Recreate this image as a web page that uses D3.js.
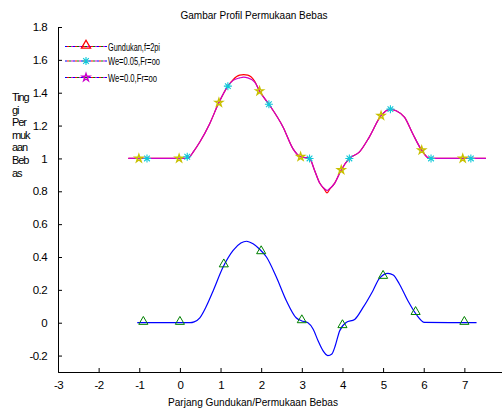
<!DOCTYPE html>
<html><head><meta charset="utf-8">
<script src="https://cdn.jsdelivr.net/npm/d3@7"></script>
<style>body{margin:0;background:#fff}svg{display:block}text{font-family:"Liberation Sans",Arial,sans-serif;fill:#000}</style>
</head><body><svg id="c" width="502" height="412"></svg>
<script>
// ---- data ----
const titleText = "Gambar Profil  Permukaan Bebas";
const xLabelText = "Parjang Gundukan/Permukaan Bebas";
const yLabelLines = ["Ting","gi","Per","muk","aan","Beb","as"];
const xTicks = [-3,-2,-1,0,1,2,3,4,5,6,7,8];
const yTicks = [-0.2,0,0.2,0.4,0.6,0.8,1,1.2,1.4,1.6,1.8];
const legendLabels = ["Gundukan,f=2pi","We=0.05,Fr=oo","We=0.0,Fr=oo"];

// bottom curve (bump)
const bumpX = [-1.05,0.25,0.35,0.49,0.65,0.82,1.06,1.31,1.5,1.64,1.8,1.95,2.13,2.37,2.62,2.86,2.99,3.15,3.28,3.40,3.52,3.64,3.74,3.81,3.93,4.09,4.30,4.50,4.75,4.91,5.12,5.25,5.40,5.61,5.81,6.02,7.30];
const bumpY = [0,0,0.005,0.03,0.10,0.195,0.337,0.44,0.485,0.496,0.48,0.45,0.40,0.28,0.134,0.03,0.012,0.0,-0.04,-0.11,-0.17,-0.2,-0.19,-0.15,-0.05,0.002,0.02,0.09,0.195,0.27,0.30,0.29,0.236,0.134,0.053,0.002,0];

// top curves
const surfX = [-1.27,0.15,0.22,0.33,0.49,0.73,0.96,1.18,1.31,1.47,1.57,1.67,1.84,1.96,2.19,2.54,2.78,2.97,3.19,3.31,3.44,3.56,3.62,3.68,3.81,3.97,4.17,4.42,4.66,4.95,5.18,5.32,5.53,5.73,5.95,6.14,7.53];
const surfRedY = [1,1,1.005,1.04,1.10,1.21,1.34,1.44,1.48,1.507,1.51,1.507,1.47,1.41,1.33,1.19,1.06,1.01,1.0,0.93,0.85,0.81,0.79,0.81,0.85,0.93,1.0,1.04,1.13,1.26,1.30,1.29,1.25,1.15,1.05,1.0,1];
const surfMagY = [1,1,1.005,1.04,1.10,1.21,1.34,1.44,1.475,1.49,1.495,1.49,1.465,1.41,1.33,1.19,1.06,1.01,1.0,0.93,0.85,0.815,0.805,0.815,0.85,0.93,1.0,1.04,1.13,1.26,1.30,1.29,1.25,1.15,1.05,1.0,1];

// markers
const triX = [-0.9,0,1.08,2.0,3.0,4.0,5.0,5.8,7.0];
const triY = [0,0,0.35,0.43,0.01,-0.02,0.28,0.06,0];
const starX = [-1.01,-0.02,0.96,1.96,2.97,3.97,4.95,5.95,6.96];
const starY = [1.0,1.0,1.34,1.41,1.01,0.93,1.26,1.05,1.0];
const astX = [-0.81,0.18,1.18,2.19,3.19,4.17,5.18,6.18,7.16];
const astY = [1.0,1.01,1.44,1.33,1.0,1.0,1.30,1.0,1.0];

// ---- chart ----
const svg = d3.select("#c");
const x = d3.scaleLinear().domain([-3,8]).range([58,505]);
const y = d3.scaleLinear().domain([-0.3,1.8]).range([372,27]);

// axes (ticks inward)
const xa = svg.append("g").attr("transform","translate(0,372)")
  .call(d3.axisBottom(x).tickValues(xTicks).tickSize(-4).tickPadding(9).tickFormat(d=>d));
const ya = svg.append("g").attr("transform","translate(58,0)")
  .call(d3.axisLeft(y).tickValues(yTicks).tickSize(-4).tickPadding(11).tickFormat(d=>+d.toFixed(1)));
[xa,ya].forEach(a=>{
  a.selectAll("path").attr("stroke","#000").attr("stroke-width",1);
  a.selectAll("line").attr("stroke","#000");
  a.selectAll("text").style("font-family","Liberation Sans, Arial, sans-serif").style("font-size","11.5px").attr("fill","#000").attr("letter-spacing","-0.6");
});

const line = d3.line().curve(d3.curveMonotoneX);

svg.append("path").attr("d", line(bumpX.map((v,i)=>[x(v),y(bumpY[i])])))
  .attr("fill","none").attr("stroke","#0000ff").attr("stroke-width",1.2);
svg.append("path").attr("d", line(surfX.map((v,i)=>[x(v),y(surfRedY[i])])))
  .attr("fill","none").attr("stroke","#ff0000").attr("stroke-width",1.2);
svg.append("path").attr("d", line(surfX.map((v,i)=>[x(v),y(surfMagY[i])])))
  .attr("fill","none").attr("stroke","#cc00cc").attr("stroke-width",1.2);

const triSym = d3.symbol().type(d3.symbolTriangle).size(36);
const starSym = d3.symbol().type(d3.symbolStar).size(18);
function asterisk(r){
  const d=r*0.707;
  return `M${-r},0L${r},0M0,${-r}L0,${r}M${-d},${-d}L${d},${d}M${-d},${d}L${d},${-d}`;
}
svg.append("g").selectAll("path").data(triX).join("path")
  .attr("transform",(d,i)=>`translate(${x(d)},${y(triY[i])-1})`)
  .attr("d",triSym()).attr("fill","none").attr("stroke","#008000").attr("stroke-width",1);
svg.append("g").selectAll("path").data(starX).join("path")
  .attr("transform",(d,i)=>`translate(${x(d)},${y(starY[i])})`)
  .attr("d",starSym()).attr("fill","none").attr("stroke","#c8c000").attr("stroke-width",1.4);
svg.append("g").selectAll("path").data(astX).join("path")
  .attr("transform",(d,i)=>`translate(${x(d)},${y(astY[i])})`)
  .attr("d",asterisk(4)).attr("fill","none").attr("stroke","#10c8d8").attr("stroke-width",1.1);

// legend
const legY = [46.5,61,77.5];
const legW = [52,52,49];
const dashColors = ["#0000ff","#ff0000","#008000","#cc00cc"];
legendLabels.forEach((lab,i)=>{
  const g = svg.append("g").attr("transform",`translate(0,${legY[i]})`);
  dashColors.forEach((c,k)=>{
    g.append("line").attr("x1",65).attr("x2",107).attr("y1",0).attr("y2",0)
      .attr("stroke",c).attr("stroke-width",1.2).attr("stroke-dasharray","2,6").attr("stroke-dashoffset",-2*k);
  });
  if(i===0) g.append("path").attr("transform","translate(86,-1)").attr("d",triSym()).attr("fill","none").attr("stroke","#ff0000").attr("stroke-width",1.3);
  if(i===1) g.append("path").attr("transform","translate(86,0)").attr("d",asterisk(4)).attr("fill","none").attr("stroke","#10c8d8").attr("stroke-width",1.1);
  if(i===2) g.append("path").attr("transform","translate(86,0)").attr("d",starSym()).attr("fill","none").attr("stroke","#cc00cc").attr("stroke-width",1.4);
  g.append("text").attr("x",108).attr("y",4).style("font-size","11px")
    .attr("textLength",legW[i]).attr("lengthAdjust","spacingAndGlyphs").text(lab);
});

// title and labels
svg.append("text").attr("x",254).attr("y",19).attr("text-anchor","middle").style("font-size","11px")
  .attr("textLength",147).attr("lengthAdjust","spacingAndGlyphs").text(titleText);
svg.append("text").attr("x",253).attr("y",406).attr("text-anchor","middle").style("font-size","11.5px")
  .attr("textLength",170).attr("lengthAdjust","spacingAndGlyphs").text(xLabelText);
yLabelLines.forEach((t,i)=>{
  svg.append("text").attr("x",12).attr("y",101+i*12.6).style("font-size","11px").attr("letter-spacing","-1.1").text(t);
});
</script></body></html>
